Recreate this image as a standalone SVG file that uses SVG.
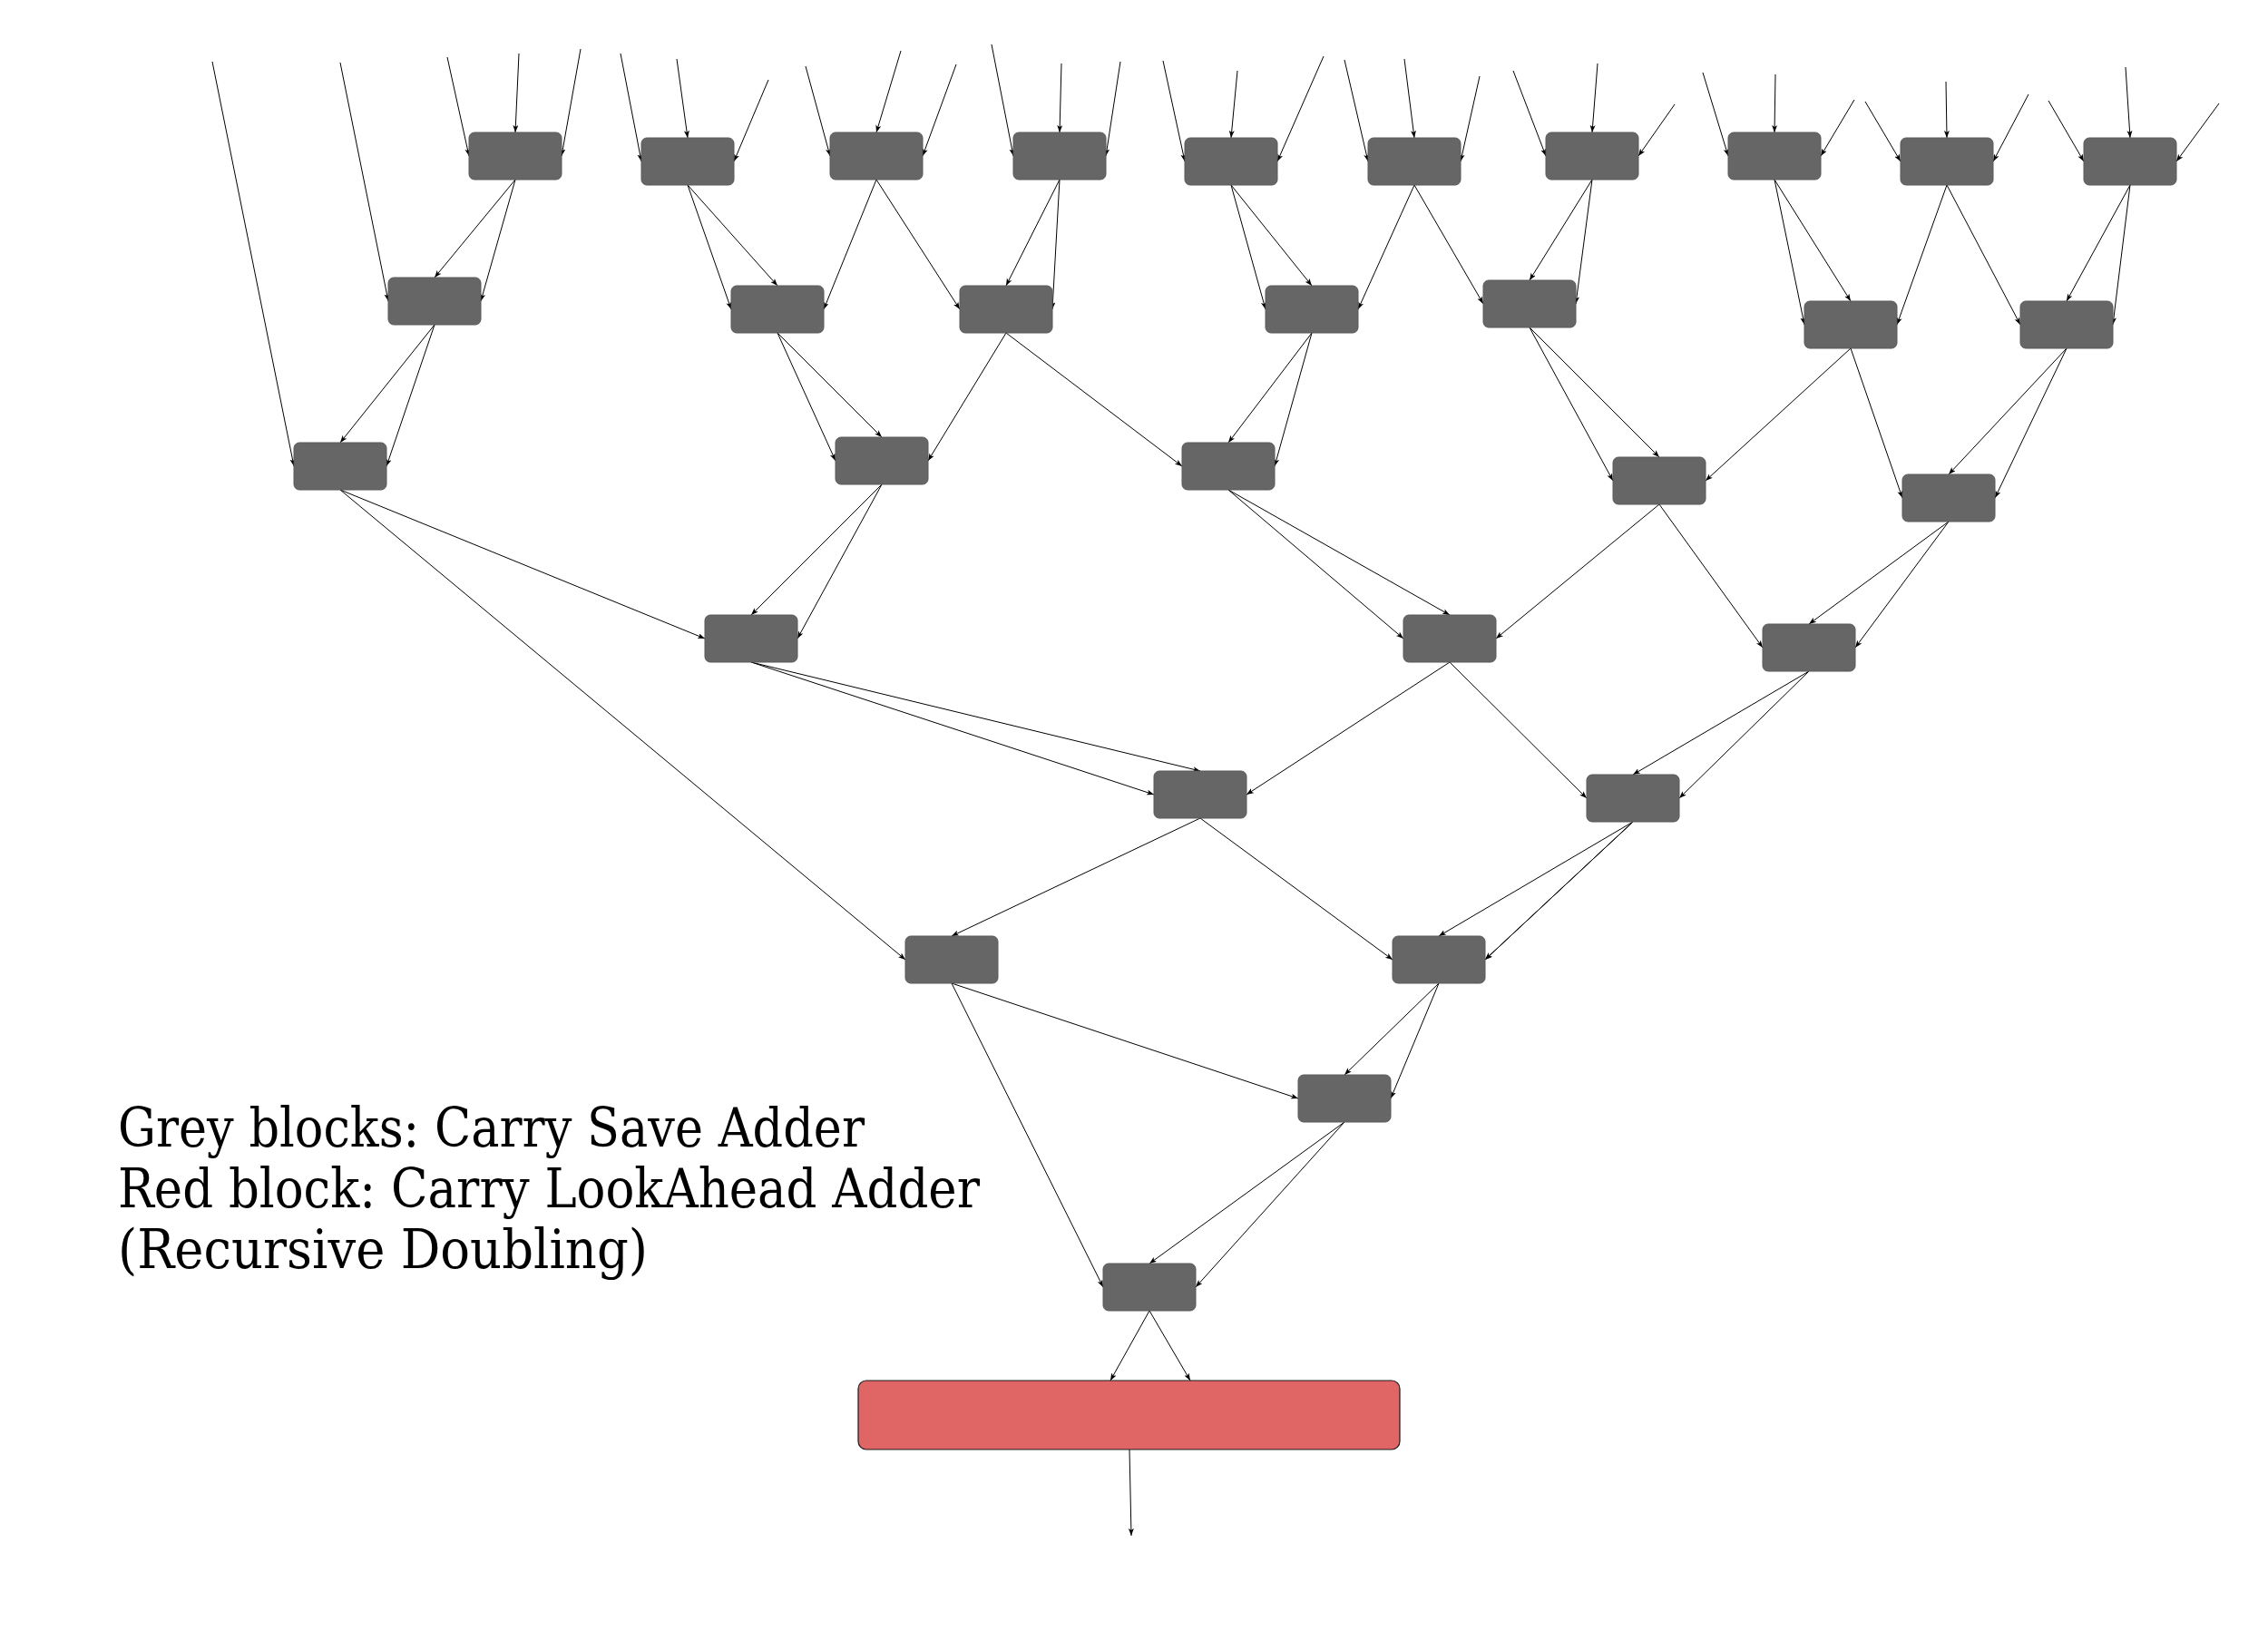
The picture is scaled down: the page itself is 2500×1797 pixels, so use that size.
<svg xmlns="http://www.w3.org/2000/svg" width="2500" height="1797" viewBox="0 0 2500 1797">
<defs>
<marker id="arr" markerWidth="9" markerHeight="7" refX="8" refY="3" orient="auto" markerUnits="userSpaceOnUse">
<path d="M0,0 L8,3 L0,6 L2,3 z" fill="#000"/>
</marker>
<style>
.csa rect{fill:#666666;stroke:#5a5a5a;stroke-width:1}
.cla rect{fill:#E06666;stroke:#1a1a1a;stroke-width:1.2}
#connectors line{stroke:#000;stroke-width:1;fill:none;marker-end:url(#arr)}
.lbl{font-family:"DejaVu Serif","Liberation Serif",serif;font-size:60px;fill:#000}
</style>
</defs>
<rect x="0" y="0" width="2500" height="1797" fill="#ffffff"/>
<g id="connectors">
<!-- primary inputs -->
<line x1="234" y1="68" x2="324" y2="514"/>
<line x1="375" y1="69" x2="428" y2="332"/>
<line x1="493" y1="63" x2="517" y2="172"/>
<line x1="572" y1="59" x2="568" y2="146"/>
<line x1="640" y1="54" x2="619" y2="172"/>
<line x1="684" y1="59" x2="707" y2="178"/>
<line x1="746" y1="65" x2="758" y2="152"/>
<line x1="847" y1="88" x2="809" y2="178"/>
<line x1="888" y1="73" x2="915" y2="172"/>
<line x1="993" y1="56" x2="966" y2="146"/>
<line x1="1054" y1="71" x2="1017" y2="172"/>
<line x1="1093" y1="49" x2="1117" y2="172"/>
<line x1="1170" y1="70" x2="1168" y2="146"/>
<line x1="1235" y1="68" x2="1219" y2="172"/>
<line x1="1282" y1="67" x2="1306" y2="178"/>
<line x1="1364" y1="78" x2="1357" y2="152"/>
<line x1="1459" y1="62" x2="1408" y2="178"/>
<line x1="1482" y1="66" x2="1508" y2="178"/>
<line x1="1548" y1="65" x2="1559" y2="152"/>
<line x1="1631" y1="84" x2="1610" y2="178"/>
<line x1="1668" y1="78" x2="1704" y2="172"/>
<line x1="1761" y1="70" x2="1755" y2="146"/>
<line x1="1846" y1="115" x2="1806" y2="172"/>
<line x1="1877" y1="80" x2="1905" y2="172"/>
<line x1="1957" y1="82" x2="1956" y2="146"/>
<line x1="2044" y1="110" x2="2007" y2="172"/>
<line x1="2056" y1="112" x2="2095" y2="178"/>
<line x1="2145" y1="90" x2="2146" y2="152"/>
<line x1="2236" y1="104" x2="2197" y2="178"/>
<line x1="2258" y1="111" x2="2297" y2="178"/>
<line x1="2343" y1="74" x2="2348" y2="152"/>
<line x1="2446" y1="114" x2="2399" y2="178"/>
<!-- level 1 -> 2 -->
<line x1="568" y1="198" x2="479" y2="306"/>
<line x1="568" y1="198" x2="530" y2="332"/>
<line x1="758" y1="204" x2="806" y2="341"/>
<line x1="758" y1="204" x2="857" y2="315"/>
<line x1="966" y1="198" x2="908" y2="341"/>
<line x1="966" y1="198" x2="1058" y2="341"/>
<line x1="1168" y1="198" x2="1109" y2="315"/>
<line x1="1168" y1="198" x2="1160" y2="341"/>
<line x1="1357" y1="204" x2="1395" y2="341"/>
<line x1="1357" y1="204" x2="1446" y2="315"/>
<line x1="1559" y1="204" x2="1497" y2="341"/>
<line x1="1559" y1="204" x2="1635" y2="335"/>
<line x1="1755" y1="198" x2="1686" y2="309"/>
<line x1="1755" y1="198" x2="1737" y2="335"/>
<line x1="1956" y1="198" x2="1989" y2="358"/>
<line x1="1956" y1="198" x2="2040" y2="332"/>
<line x1="2146" y1="204" x2="2091" y2="358"/>
<line x1="2146" y1="204" x2="2227" y2="358"/>
<line x1="2348" y1="204" x2="2278" y2="332"/>
<line x1="2348" y1="204" x2="2329" y2="358"/>
<!-- level 2 -> 3 -->
<line x1="479" y1="358" x2="375" y2="488"/>
<line x1="479" y1="358" x2="426" y2="514"/>
<line x1="857" y1="367" x2="921" y2="508"/>
<line x1="857" y1="367" x2="972" y2="482"/>
<line x1="1109" y1="367" x2="1023" y2="508"/>
<line x1="1109" y1="367" x2="1303" y2="514"/>
<line x1="1446" y1="367" x2="1354" y2="488"/>
<line x1="1446" y1="367" x2="1405" y2="514"/>
<line x1="1686" y1="361" x2="1778" y2="530"/>
<line x1="1686" y1="361" x2="1829" y2="504"/>
<line x1="2040" y1="384" x2="1880" y2="530"/>
<line x1="2040" y1="384" x2="2097" y2="549"/>
<line x1="2278" y1="384" x2="2148" y2="523"/>
<line x1="2278" y1="384" x2="2199" y2="549"/>
<!-- level 3 -> 4 -->
<line x1="375" y1="540" x2="777" y2="704"/>
<line x1="375" y1="540" x2="998" y2="1058"/>
<line x1="972" y1="534" x2="828" y2="678"/>
<line x1="972" y1="534" x2="879" y2="704"/>
<line x1="1354" y1="540" x2="1598" y2="678"/>
<line x1="1354" y1="540" x2="1547" y2="704"/>
<line x1="1829" y1="556" x2="1649" y2="704"/>
<line x1="1829" y1="556" x2="1943" y2="714"/>
<line x1="2148" y1="575" x2="1994" y2="688"/>
<line x1="2148" y1="575" x2="2045" y2="714"/>
<!-- level 4 -> 5 -->
<line x1="828" y1="730" x2="1323" y2="850"/>
<line x1="828" y1="730" x2="1272" y2="876"/>
<line x1="1598" y1="730" x2="1374" y2="876"/>
<line x1="1598" y1="730" x2="1749" y2="880"/>
<line x1="1994" y1="740" x2="1800" y2="854"/>
<line x1="1994" y1="740" x2="1851" y2="880"/>
<!-- level 5 -> 6 -->
<line x1="1323" y1="902" x2="1049" y2="1032"/>
<line x1="1323" y1="902" x2="1535" y2="1058"/>
<line x1="1800" y1="906" x2="1586" y2="1032"/>
<line x1="1800" y1="906" x2="1637" y2="1058"/>
<line x1="1799" y1="907" x2="1637" y2="1058"/>
<!-- level 6 -> 7 / 8 -->
<line x1="1049" y1="1084" x2="1216" y2="1419"/>
<line x1="1049" y1="1084" x2="1431" y2="1211"/>
<line x1="1586" y1="1084" x2="1482" y2="1185"/>
<line x1="1586" y1="1084" x2="1533" y2="1211"/>
<line x1="1482" y1="1237" x2="1267" y2="1393"/>
<line x1="1482" y1="1237" x2="1318" y2="1419"/>
<!-- to CLA and output -->
<line x1="1267" y1="1445" x2="1224" y2="1522"/>
<line x1="1267" y1="1445" x2="1312" y2="1522"/>
<line x1="1245" y1="1598" x2="1247" y2="1693"/>
</g>
<g id="n1" class="csa"><rect x="517" y="146" width="102" height="52" rx="6"/></g>
<g id="n2" class="csa"><rect x="707" y="152" width="102" height="52" rx="6"/></g>
<g id="n3" class="csa"><rect x="915" y="146" width="102" height="52" rx="6"/></g>
<g id="n4" class="csa"><rect x="1117" y="146" width="102" height="52" rx="6"/></g>
<g id="n5" class="csa"><rect x="1306" y="152" width="102" height="52" rx="6"/></g>
<g id="n6" class="csa"><rect x="1508" y="152" width="102" height="52" rx="6"/></g>
<g id="n7" class="csa"><rect x="1704" y="146" width="102" height="52" rx="6"/></g>
<g id="n8" class="csa"><rect x="1905" y="146" width="102" height="52" rx="6"/></g>
<g id="n9" class="csa"><rect x="2095" y="152" width="102" height="52" rx="6"/></g>
<g id="n10" class="csa"><rect x="2297" y="152" width="102" height="52" rx="6"/></g>
<g id="n11" class="csa"><rect x="428" y="306" width="102" height="52" rx="6"/></g>
<g id="n12" class="csa"><rect x="806" y="315" width="102" height="52" rx="6"/></g>
<g id="n13" class="csa"><rect x="1058" y="315" width="102" height="52" rx="6"/></g>
<g id="n14" class="csa"><rect x="1395" y="315" width="102" height="52" rx="6"/></g>
<g id="n15" class="csa"><rect x="1635" y="309" width="102" height="52" rx="6"/></g>
<g id="n16" class="csa"><rect x="1989" y="332" width="102" height="52" rx="6"/></g>
<g id="n17" class="csa"><rect x="2227" y="332" width="102" height="52" rx="6"/></g>
<g id="n18" class="csa"><rect x="324" y="488" width="102" height="52" rx="6"/></g>
<g id="n19" class="csa"><rect x="921" y="482" width="102" height="52" rx="6"/></g>
<g id="n20" class="csa"><rect x="1303" y="488" width="102" height="52" rx="6"/></g>
<g id="n21" class="csa"><rect x="1778" y="504" width="102" height="52" rx="6"/></g>
<g id="n22" class="csa"><rect x="2097" y="523" width="102" height="52" rx="6"/></g>
<g id="n23" class="csa"><rect x="777" y="678" width="102" height="52" rx="6"/></g>
<g id="n24" class="csa"><rect x="1547" y="678" width="102" height="52" rx="6"/></g>
<g id="n25" class="csa"><rect x="1943" y="688" width="102" height="52" rx="6"/></g>
<g id="n26" class="csa"><rect x="1272" y="850" width="102" height="52" rx="6"/></g>
<g id="n27" class="csa"><rect x="1749" y="854" width="102" height="52" rx="6"/></g>
<g id="n28" class="csa"><rect x="998" y="1032" width="102" height="52" rx="6"/></g>
<g id="n29" class="csa"><rect x="1535" y="1032" width="102" height="52" rx="6"/></g>
<g id="n30" class="csa"><rect x="1431" y="1185" width="102" height="52" rx="6"/></g>
<g id="n31" class="csa"><rect x="1216" y="1393" width="102" height="52" rx="6"/></g>
<g id="cla" class="cla"><rect x="946" y="1522" width="597" height="76" rx="9"/></g>
<g id="legend">
<text class="lbl" x="130" y="1264" textLength="823" lengthAdjust="spacingAndGlyphs">Grey blocks: Carry Save Adder</text>
<text class="lbl" x="130" y="1331" textLength="950" lengthAdjust="spacingAndGlyphs">Red block: Carry LookAhead Adder</text>
<text class="lbl" x="130" y="1398" textLength="584" lengthAdjust="spacingAndGlyphs">(Recursive Doubling)</text>
</g>
</svg>
